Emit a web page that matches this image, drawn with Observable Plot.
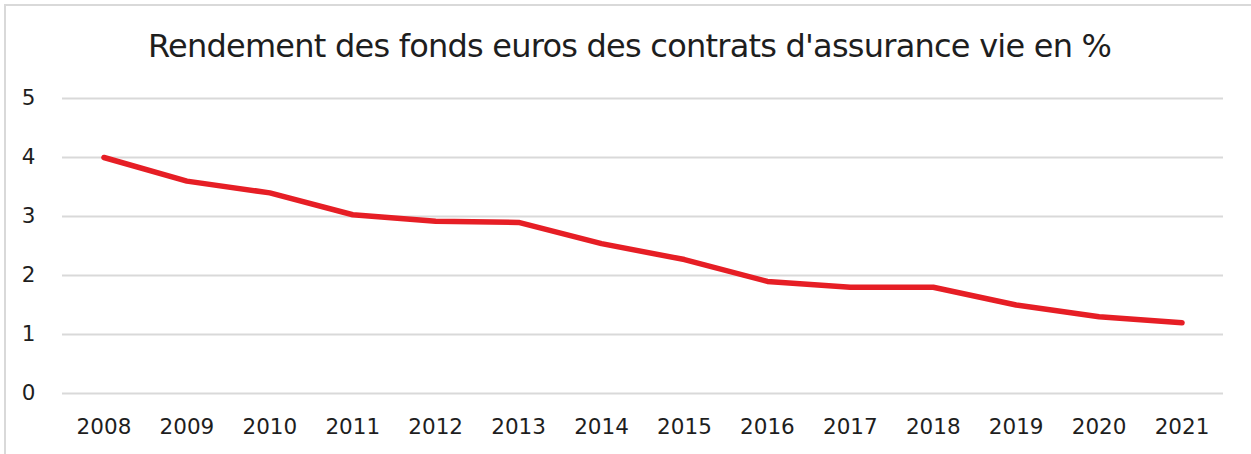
<!DOCTYPE html>
<html><head><meta charset="utf-8">
<script src="https://cdn.jsdelivr.net/npm/d3@7"></script>
<script src="https://cdn.jsdelivr.net/npm/@observablehq/plot@0.6"></script>
<style>
body{margin:0;background:#fff;width:1251px;height:454px;overflow:hidden;position:relative;font-family:"DejaVu Sans",sans-serif;}
#frame{position:absolute;left:4px;top:4px;width:1300px;height:500px;border-top:2px solid #d9d9d9;border-left:2px solid #d9d9d9;}
#title{position:absolute;left:0;top:0;width:1251px;height:80px;}
#title span{position:absolute;top:30px;font-size:32px;color:#1e1e1e;white-space:nowrap;line-height:1;}
#chart{position:absolute;left:0;top:80px;}
</style></head>
<body>
<div id="frame"></div>
<div id="title"><span id="tt">Rendement des fonds euros des contrats d'assurance vie en %</span></div>
<div id="chart"></div>
<script>
const years = ["2008","2009","2010","2011","2012","2013","2014","2015","2016","2017","2018","2019","2020","2021"];
const rendement = [4.0,3.6,3.4,3.03,2.92,2.9,2.54,2.27,1.9,1.8,1.8,1.5,1.3,1.2];
const yTicks = [0,1,2,3,4,5];
const data = years.map((y,i)=>({year:y, value:rendement[i]}));

// title fit
const tt = document.getElementById("tt");
const w = tt.getBoundingClientRect().width;
const target = 964;
const ls = (target - w) / (tt.textContent.length - 1);
tt.style.letterSpacing = ls + "px";
tt.style.left = "148px";

const chart = Plot.plot({
  width: 1251,
  height: 374,
  marginLeft: 62,
  marginRight: 28,
  marginTop: 18,
  marginBottom: 61,
  style: {fontFamily: '"DejaVu Sans", sans-serif', fontSize: "21px", color: "#1e1e1e", background: "transparent", overflow: "visible"},
  x: {type: "point", domain: years, padding: 0.5, round: false, label: null},
  y: {domain: [0,5], ticks: yTicks, label: null},
  marks: [
    Plot.ruleY(yTicks, {stroke: "#d9d9d9", strokeWidth: 2}),
    Plot.axisX({tickSize: 0, tickPadding: 25, fontSize: 21.5}),
    Plot.axisY({ticks: yTicks, tickFormat: d3.format("d"), tickSize: 0, tickPadding: 27, fontSize: 21.5}),
    Plot.line(data, {x: "year", y: "value", stroke: "#e61e25", strokeWidth: 5.5, strokeLinecap: "round", strokeLinejoin: "round"})
  ]
});
document.getElementById("chart").appendChild(chart);
</script>
</body></html>
